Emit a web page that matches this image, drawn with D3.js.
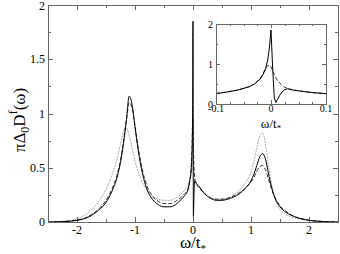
<!DOCTYPE html>
<html><head><meta charset="utf-8">
<script src="https://cdn.jsdelivr.net/npm/d3@7/dist/d3.min.js"></script>
<style>body{margin:0;background:#fff}svg{display:block}</style>
</head><body>
<svg id="c" width="340" height="254" font-family="'Liberation Serif','Times New Roman','DejaVu Serif',serif"></svg>
<script>
// ---- data ----
const omega = [-2.5,-2.25,-2.0,-1.875,-1.75,-1.625,-1.5,-1.4,-1.3,-1.25,-1.2,-1.15,-1.1,-1.05,-1.0,-0.95,-0.9,-0.85,-0.8,-0.7,-0.6,-0.5,-0.4,-0.3,-0.2,-0.15,-0.1,-0.06,-0.03,-0.015,-0.006,0,0.004,0.007,0.012,0.02,0.03,0.05,0.1,0.2,0.3,0.4,0.5,0.6,0.7,0.8,0.9,1.0,1.05,1.1,1.15,1.2,1.25,1.3,1.35,1.4,1.5,1.6,1.7,1.8,1.9,2.0,2.25,2.5];
const solidMain = [0.0,0.003,0.015,0.03,0.06,0.11,0.18,0.28,0.43,0.55,0.72,0.93,1.16,1.08,0.88,0.68,0.52,0.40,0.31,0.21,0.16,0.14,0.14,0.16,0.21,0.24,0.28,0.37,0.5,0.68,1.05,1.85,0.6,0.05,0.14,0.3,0.38,0.36,0.33,0.26,0.22,0.2,0.2,0.21,0.23,0.26,0.31,0.38,0.44,0.52,0.6,0.63,0.58,0.45,0.33,0.24,0.14,0.09,0.06,0.04,0.025,0.015,0.004,0.0];
const dashedMain = [0.0,0.004,0.018,0.035,0.07,0.12,0.2,0.3,0.45,0.57,0.74,0.93,1.1,1.05,0.88,0.7,0.55,0.43,0.34,0.24,0.19,0.17,0.17,0.19,0.23,0.26,0.28,0.36,0.5,0.72,0.95,0.92,0.78,0.68,0.58,0.47,0.39,0.35,0.32,0.26,0.22,0.21,0.21,0.22,0.24,0.27,0.31,0.37,0.41,0.47,0.51,0.52,0.48,0.4,0.31,0.24,0.15,0.1,0.065,0.04,0.027,0.017,0.005,0.0];
const dottedMain = [0.002,0.008,0.03,0.06,0.11,0.19,0.3,0.43,0.6,0.72,0.84,0.87,0.8,0.68,0.56,0.47,0.4,0.34,0.3,0.24,0.21,0.2,0.2,0.22,0.26,0.29,0.33,0.38,0.45,0.5,0.55,0.58,0.55,0.52,0.48,0.45,0.42,0.38,0.33,0.27,0.23,0.21,0.21,0.22,0.25,0.29,0.36,0.46,0.56,0.68,0.79,0.82,0.72,0.52,0.36,0.24,0.12,0.07,0.045,0.03,0.02,0.013,0.004,0.001];

const omegaInset = [-0.1,-0.08,-0.06,-0.04,-0.03,-0.02,-0.015,-0.01,-0.006,-0.003,0,0.003,0.006,0.009,0.012,0.016,0.02,0.025,0.03,0.04,0.06,0.08,0.1];
const solidInset = [0.26,0.3,0.35,0.43,0.5,0.62,0.72,0.88,1.1,1.4,1.85,0.9,0.15,0.04,0.12,0.22,0.3,0.36,0.38,0.35,0.31,0.28,0.26];
const dashedInset = [0.26,0.3,0.35,0.43,0.5,0.63,0.75,0.88,0.96,0.97,0.93,0.84,0.74,0.65,0.59,0.52,0.47,0.42,0.39,0.35,0.31,0.28,0.26];

const xMajor = [-2,-1,0,1,2];
const xMajorLabels = ["-2","-1","0","1","2"];
const xMinor = [-2.5,-1.5,-0.5,0.5,1.5,2.5];
const yMajor = [0,0.5,1,1.5,2];
const yMajorLabels = ["0","0.5","1","1.5","2"];
const yMinor = [0.25,0.75,1.25,1.75];
const ixMajor = [-0.1,0,0.1];
const ixMajorLabels = ["-0.1","0","0.1"];
const ixMinor = [-0.075,-0.05,-0.025,0.025,0.05,0.075];
const iyMajor = [0,1,2];
const iyMajorLabels = ["0","1","2"];
const iyMinor = [0.5,1.5];

// ---- drawing ----
const svg = d3.select("#c");
const frameColor = "#666";

function panel(g, x, y, opt) {
  const [x0,x1] = x.range(), [y0,y1] = y.range();
  g.append("rect").attr("x",x0).attr("y",y1).attr("width",x1-x0).attr("height",y0-y1)
    .attr("fill","#fff");
  const tk = (vals, len, axis) => {
    vals.forEach(v => {
      if (axis==="x") {
        const px = Math.round(x(v))+0.5;
        g.append("line").attr("x1",px).attr("x2",px).attr("y1",y0).attr("y2",y0-len).attr("stroke",frameColor);
        g.append("line").attr("x1",px).attr("x2",px).attr("y1",y1).attr("y2",y1+len).attr("stroke",frameColor);
      } else {
        const py = Math.round(y(v))+0.5;
        g.append("line").attr("y1",py).attr("y2",py).attr("x1",x0).attr("x2",x0+len).attr("stroke",frameColor);
        g.append("line").attr("y1",py).attr("y2",py).attr("x1",x1).attr("x2",x1-len).attr("stroke",frameColor);
      }
    });
  };
  tk(opt.xMajor, opt.major, "x"); tk(opt.xMinor, opt.minor, "x");
  tk(opt.yMajor, opt.major, "y"); tk(opt.yMinor, opt.minor, "y");
  opt.series.forEach(s => {
    const line = d3.line().x(d=>x(d[0])).y(d=>y(d[1])).curve(s.curve);
    g.append("path").attr("d", line(s.xs.map((v,i)=>[v,s.ys[i]])))
      .attr("fill","none").attr("stroke",s.color).attr("stroke-width",s.w)
      .attr("stroke-dasharray",s.dash||null);
  });
  g.append("rect").attr("x",Math.round(x0)+0.5).attr("y",Math.round(y1)+0.5)
    .attr("width",Math.round(x1-x0)).attr("height",Math.round(y0-y1))
    .attr("fill","none").attr("stroke",frameColor);
  opt.xMajor.forEach((v,i)=>{
    g.append("text").attr("x",x(v)).attr("y",y0+opt.xlabOff).attr("text-anchor","middle")
      .attr("font-size",opt.fs).text(opt.xLabels[i]);
  });
  opt.yMajor.forEach((v,i)=>{
    g.append("text").attr("x",x0-opt.ylabOff).attr("y",Math.max(y(v),opt.yMinPos||0)).attr("dy","0.35em").attr("text-anchor","end")
      .attr("font-size",opt.fs).text(opt.yLabels[i]);
  });
}

const x = d3.scaleLinear().domain([-2.5,2.5]).range([48,338]);
const y = d3.scaleLinear().domain([0,2]).range([222,5]);
panel(svg.append("g"), x, y, {
  xMajor, xMinor, yMajor, yMinor, major:5, minor:3, xLabels:xMajorLabels, yLabels:yMajorLabels,
  fs:12, xlabOff:12, ylabOff:3, yMinPos:6,
  series:[
    {xs:omega, ys:dottedMain, color:"#aaa", w:1, dash:"2,1", curve:d3.curveMonotoneX},
    {xs:omega, ys:dashedMain, color:"#333", w:1, dash:"4,2", curve:d3.curveMonotoneX},
    {xs:omega, ys:solidMain, color:"#000", w:1, curve:d3.curveMonotoneX}
  ]
});

const ix = d3.scaleLinear().domain([-0.1,0.1]).range([216,326]);
const iy = d3.scaleLinear().domain([0,2]).range([104,24]);
panel(svg.append("g"), ix, iy, {
  xMajor:ixMajor, xMinor:ixMinor, yMajor:iyMajor, yMinor:iyMinor, major:4, minor:2,
  xLabels:ixMajorLabels, yLabels:iyMajorLabels, fs:10, xlabOff:8, ylabOff:3,
  series:[
    {xs:omegaInset, ys:dashedInset, color:"#333", w:1, dash:"4,2", curve:d3.curveLinear},
    {xs:omegaInset, ys:solidInset, color:"#000", w:1, curve:d3.curveLinear}
  ]
});

// axis titles
const xt = svg.append("text").attr("x",193).attr("y",248).attr("text-anchor","middle").attr("font-size",17);
xt.append("tspan").text("ω/t");
xt.append("tspan").attr("font-size",11).attr("dy",4).text("*");

const ixt = svg.append("text").attr("x",271).attr("y",128).attr("text-anchor","middle").attr("font-size",13);
ixt.append("tspan").text("ω/t");
ixt.append("tspan").attr("font-size",9).attr("dy",3).text("*");

const yt = svg.append("text").attr("transform","translate(25,120) rotate(-90)").attr("text-anchor","middle").attr("font-size",17);
yt.append("tspan").text("πΔ");
yt.append("tspan").attr("font-size",12).attr("dy",4).text("0");
yt.append("tspan").attr("dy",-4).text("D");
yt.append("tspan").attr("font-size",12).attr("dy",-8).text("f");
yt.append("tspan").attr("dy",8).text("(ω)");
</script>
</body></html>
